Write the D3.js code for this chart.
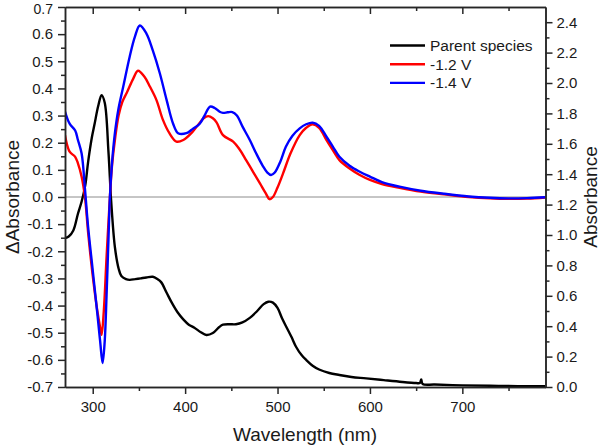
<!DOCTYPE html>
<html>
<head>
<meta charset="utf-8">
<script src="https://cdn.jsdelivr.net/npm/d3@7"></script>
<style>
  body { margin: 0; background: #fff; }
  svg { display: block; font-family: Arial, "Liberation Sans", sans-serif; }
</style>
</head>
<body>
<div id="chart"></div>
<script>
// données
const parentWl = [270, 274, 279, 284, 288, 292, 295, 299, 302, 306, 309.6, 313, 317, 320, 324, 328, 331, 336, 340, 346, 352, 358, 365, 370, 374, 380, 386, 392, 398, 404, 410, 417, 423, 430, 437, 441, 448, 455, 462, 470, 478, 485, 490, 495, 500, 505, 510, 515, 520, 526, 531, 538, 545, 556, 567, 580, 596, 615, 635, 650, 654, 655.5, 657, 670, 700, 730, 760, 790];
const parentAbs = [0.98, 0.99, 1.03, 1.14, 1.22, 1.33, 1.48, 1.64, 1.73, 1.85, 1.92, 1.87, 1.55, 1.22, 0.92, 0.78, 0.73, 0.71, 0.705, 0.71, 0.715, 0.72, 0.725, 0.71, 0.69, 0.62, 0.55, 0.49, 0.445, 0.41, 0.39, 0.36, 0.342, 0.355, 0.395, 0.41, 0.413, 0.413, 0.425, 0.455, 0.50, 0.545, 0.561, 0.555, 0.52, 0.45, 0.39, 0.33, 0.265, 0.21, 0.178, 0.14, 0.115, 0.092, 0.079, 0.066, 0.057, 0.045, 0.033, 0.026, 0.026, 0.05, 0.02, 0.016, 0.011, 0.008, 0.006, 0.005];

const redWl = [270, 275, 281, 284, 288, 291.6, 295, 300, 305, 308, 309.6, 312, 315, 318.6, 321, 324, 328, 332, 337, 344, 349, 356, 362, 369, 376, 383, 390.6, 398, 408, 415, 420, 425, 430, 434, 441, 452, 459, 466, 474, 481, 487, 491.4, 495, 500, 506, 514, 524, 531, 538, 545, 553, 560, 567, 578, 589, 600, 613, 632, 655, 680, 707, 730, 750, 770, 790];
const redDelta = [0.228, 0.167, 0.148, 0.124, 0.075, 0.0, -0.13, -0.29, -0.42, -0.48, -0.508, -0.42, -0.22, 0.0, 0.12, 0.21, 0.30, 0.35, 0.385, 0.437, 0.465, 0.443, 0.406, 0.357, 0.284, 0.235, 0.204, 0.21, 0.24, 0.27, 0.29, 0.298, 0.29, 0.275, 0.228, 0.204, 0.175, 0.136, 0.09, 0.05, 0.015, -0.008, 0.0, 0.035, 0.087, 0.16, 0.228, 0.255, 0.268, 0.255, 0.21, 0.172, 0.136, 0.105, 0.081, 0.063, 0.048, 0.034, 0.02, 0.01, 0.0, -0.005, -0.007, -0.006, -0.002];

const blueWl = [270, 275, 281, 284, 288, 291.6, 295, 300, 305, 308, 310.7, 313, 315, 317, 318.6, 321, 324, 327.6, 333, 340, 345.6, 351, 358, 365, 372.6, 380, 387, 392.4, 401.4, 408, 415.8, 421, 427, 432, 437.4, 441, 446, 451, 456, 462, 470, 477, 484, 489, 493, 497, 503, 509, 516, 524, 531, 538, 545, 553, 560, 567, 578, 589, 600, 613, 632, 655, 680, 707, 730, 750, 770, 790];
const blueDelta = [0.315, 0.27, 0.245, 0.21, 0.16, 0.03, -0.11, -0.27, -0.43, -0.53, -0.612, -0.53, -0.36, -0.16, 0.0, 0.13, 0.235, 0.32, 0.406, 0.517, 0.59, 0.632, 0.603, 0.54, 0.456, 0.357, 0.27, 0.235, 0.235, 0.25, 0.27, 0.3, 0.333, 0.328, 0.314, 0.31, 0.312, 0.313, 0.3, 0.26, 0.21, 0.16, 0.115, 0.09, 0.081, 0.09, 0.13, 0.185, 0.225, 0.253, 0.268, 0.274, 0.262, 0.222, 0.185, 0.148, 0.115, 0.093, 0.075, 0.055, 0.038, 0.023, 0.012, 0.002, -0.003, -0.005, -0.004, -0.001];

const leftTicks = d3.range(-7, 8).map(d => d / 10);
const rightTicks = d3.range(0, 13).map(d => d / 5);
const xTicks = [300, 400, 500, 600, 700];

const legendItems = [
    { label: "Parent species", color: "#000000" },
    { label: "-1.2 V", color: "#ff0000" },
    { label: "-1.4 V", color: "#0000ff" }
];

// Configuration de base
const width = 601, height = 446;
const margin = { top: 7, right: 55.5, bottom: 59, left: 65 };
const innerW = width - margin.left - margin.right;
const innerH = height - margin.top - margin.bottom;

const svg = d3.select("#chart").append("svg")
    .attr("width", width)
    .attr("height", height);

const x = d3.scaleLinear().domain([270, 790]).range([margin.left, margin.left + innerW]);
const yL = d3.scaleLinear().domain([-0.7, 0.7]).range([margin.top + innerH, margin.top]);
const yR = d3.scaleLinear().domain([0, 2.5]).range([margin.top + innerH, margin.top]);

const fmt1 = d => {
    const v = Math.round(d * 10) / 10;
    return (v === 0 ? 0 : v).toFixed(1);
};

svg.append("clipPath").attr("id", "clip")
    .append("rect")
    .attr("x", margin.left).attr("y", margin.top)
    .attr("width", innerW).attr("height", innerH);

// ligne du zéro
svg.append("line")
    .attr("x1", margin.left).attr("x2", margin.left + innerW)
    .attr("y1", yL(0)).attr("y2", yL(0))
    .attr("stroke", "#8c8c8c").attr("stroke-width", 1);

// courbes
const plot = svg.append("g").attr("clip-path", "url(#clip)");
const lineL = d3.line().x(d => x(d[0])).y(d => yL(d[1])).curve(d3.curveCatmullRom.alpha(0.5));
const lineR = d3.line().x(d => x(d[0])).y(d => yR(d[1])).curve(d3.curveCatmullRom.alpha(0.5));

plot.append("path")
    .attr("d", lineR(d3.zip(parentWl, parentAbs)))
    .attr("fill", "none").attr("stroke", "#000").attr("stroke-width", 2.4)
    .attr("stroke-linejoin", "round");
plot.append("path")
    .attr("d", lineL(d3.zip(redWl, redDelta)))
    .attr("fill", "none").attr("stroke", "#ff0000").attr("stroke-width", 2.4)
    .attr("stroke-linejoin", "round");
plot.append("path")
    .attr("d", lineL(d3.zip(blueWl, blueDelta)))
    .attr("fill", "none").attr("stroke", "#0000ff").attr("stroke-width", 2.4)
    .attr("stroke-linejoin", "round");

// axes
function styleAxis(g) {
    g.selectAll("path, line").attr("stroke", "#262626").attr("stroke-width", 1.5);
    g.selectAll("text").attr("fill", "#1a1a1a").attr("font-size", "15px")
        .attr("font-family", "Arial, 'Liberation Sans', sans-serif");
}

const xMinor = d3.range(300, 800, 50).filter(d => d % 100 !== 0);

svg.append("g").attr("transform", `translate(0,${margin.top + innerH})`)
    .call(d3.axisBottom(x).tickValues(xMinor).tickSize(4).tickFormat("").tickSizeOuter(0))
    .call(styleAxis);
svg.append("g").attr("transform", `translate(0,${margin.top + innerH})`)
    .call(d3.axisBottom(x).tickValues(xTicks).tickSize(7).tickPadding(7).tickSizeOuter(0))
    .call(styleAxis);

svg.append("g").attr("transform", `translate(0,${margin.top})`)
    .call(d3.axisTop(x).tickValues(xMinor).tickSize(-4).tickFormat("").tickSizeOuter(0))
    .call(styleAxis);
svg.append("g").attr("transform", `translate(0,${margin.top})`)
    .call(d3.axisTop(x).tickValues(xTicks).tickSize(-7).tickFormat("").tickSizeOuter(0))
    .call(styleAxis);

const leftMinor = d3.range(-65, 70, 10).map(d => d / 100);
svg.append("g").attr("transform", `translate(${margin.left},0)`)
    .call(d3.axisLeft(yL).tickValues(leftMinor).tickSize(4).tickFormat("").tickSizeOuter(0))
    .call(styleAxis);
svg.append("g").attr("transform", `translate(${margin.left},0)`)
    .call(d3.axisLeft(yL).tickValues(leftTicks).tickSize(7).tickPadding(5).tickFormat(fmt1).tickSizeOuter(0))
    .call(styleAxis)
    // l'étiquette du haut touche le bord : on la descend un peu
    .call(g => g.selectAll(".tick text").filter(d => d > 0.65).attr("dy", "0.45em").attr("font-size", "14px"));

const rightMinor = d3.range(1, 25, 2).map(d => d / 10);
svg.append("g").attr("transform", `translate(${margin.left + innerW},0)`)
    .call(d3.axisRight(yR).tickValues(rightMinor).tickSize(4).tickFormat("").tickSizeOuter(0))
    .call(styleAxis);
svg.append("g").attr("transform", `translate(${margin.left + innerW},0)`)
    .call(d3.axisRight(yR).tickValues(rightTicks).tickSize(7).tickPadding(4).tickFormat(fmt1).tickSizeOuter(0))
    .call(styleAxis);

// titres des axes
svg.append("text")
    .attr("x", 305).attr("y", 441)
    .attr("text-anchor", "middle").attr("font-size", "19px").attr("fill", "#1a1a1a")
    .text("Wavelength (nm)");
svg.append("text")
    .attr("transform", `translate(19,${yL(0)}) rotate(-90)`)
    .attr("text-anchor", "middle").attr("font-size", "19px").attr("fill", "#1a1a1a")
    .text("ΔAbsorbance");
svg.append("text")
    .attr("transform", `translate(597,${yL(0)}) rotate(-90)`)
    .attr("text-anchor", "middle").attr("font-size", "19px").attr("fill", "#1a1a1a")
    .text("Absorbance");

// légende
const legend = svg.append("g").attr("transform", "translate(390,45.5)");
legendItems.forEach((item, i) => {
    const row = legend.append("g").attr("transform", `translate(0,${i * 18.7})`);
    row.append("line").attr("x1", 0).attr("x2", 35).attr("y1", 0).attr("y2", 0)
        .attr("stroke", item.color).attr("stroke-width", 2.4);
    row.append("text").attr("x", 40).attr("y", 5.5)
        .attr("font-size", "15.5px").attr("fill", "#1a1a1a")
        .text(item.label);
});
</script>
</body>
</html>
